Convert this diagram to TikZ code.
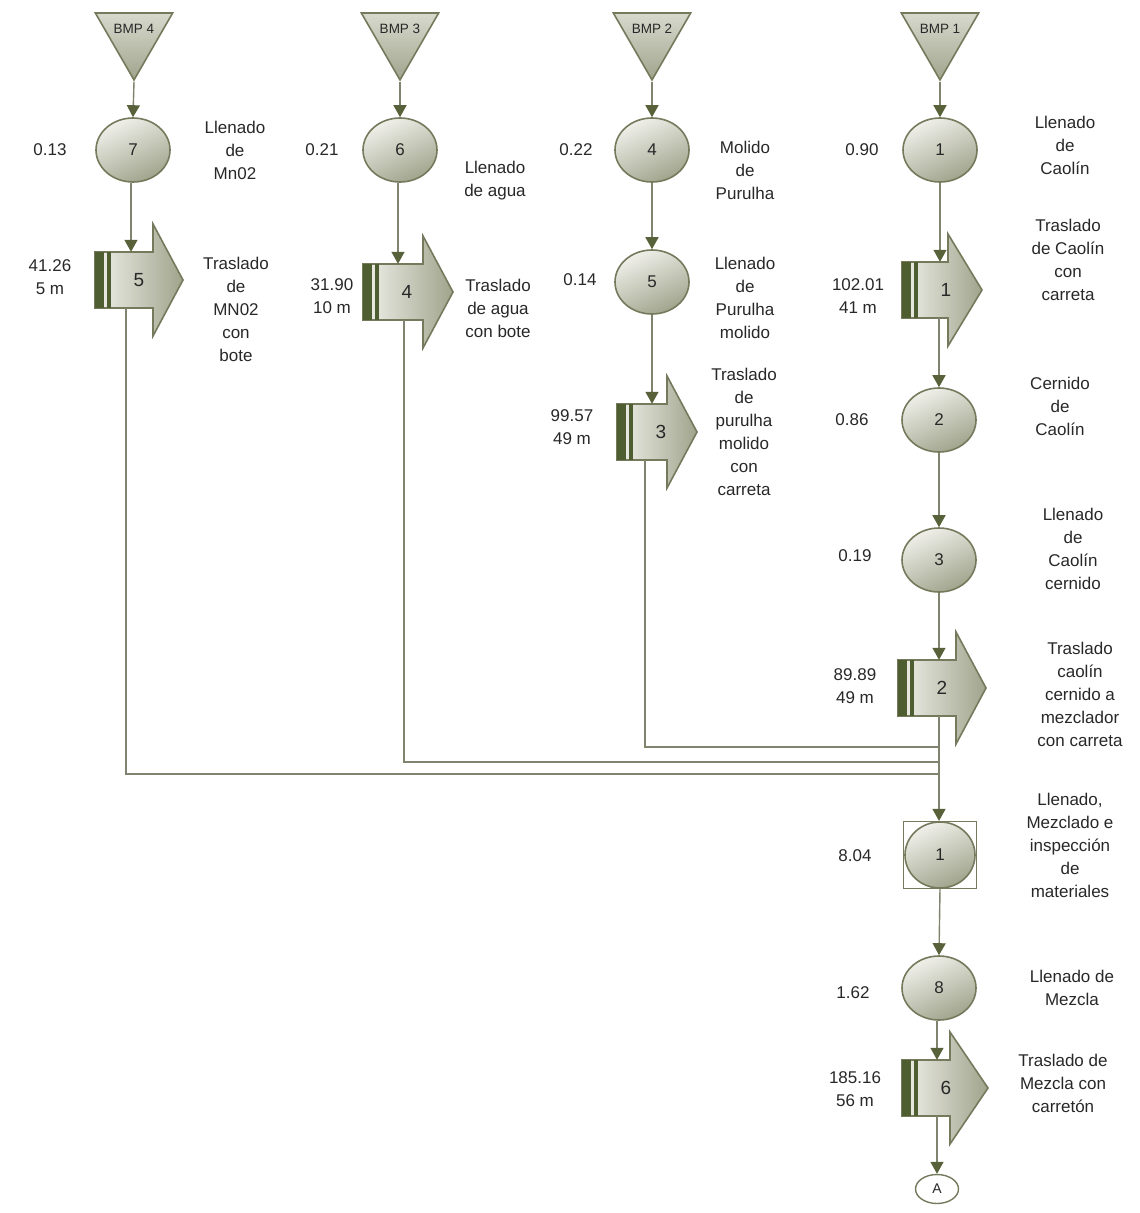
\documentclass[tikz,border=0pt]{standalone}
\usepackage{fontspec}
\setmainfont{Liberation Sans}
\usetikzlibrary{shapes.geometric,arrows.meta,calc}
\definecolor{lineC}{RGB}{128,131,110}
\definecolor{tipC}{RGB}{88,98,58}
\definecolor{edgeC}{RGB}{118,122,92}
\definecolor{barC}{RGB}{78,94,48}
\definecolor{fillL}{RGB}{240,240,234}
\definecolor{fillD}{RGB}{160,164,140}
\definecolor{txtC}{RGB}{40,40,40}
\tikzset{
  opnode/.style={ellipse, draw=edgeC, line width=1.6pt, top color=fillL, bottom color=fillD, shading angle=25,
     minimum width=74, minimum height=64, inner sep=0, font=\fontsize{17}{19}\selectfont, text=txtC},
  trinode/.style={regular polygon, regular polygon sides=3, shape border rotate=180, draw=edgeC, line width=1.6pt,
     top color=fillL!70!fillD, bottom color=fillD, minimum size=89.3, inner sep=0},
  arr/.style={draw=lineC, line width=1.4pt, -{Triangle[width=13pt,length=12pt,color=tipC]}},
  ln/.style={draw=lineC, line width=1.4pt},
  lbl/.style={font=\fontsize{17}{23}\selectfont, text=txtC, align=center, inner sep=0},
  tnum/.style={font=\fontsize{19}{23}\selectfont, text=txtC, inner sep=0},
  bmp/.style={font=\fontsize{13.5}{15}\selectfont, text=txtC, inner sep=0},
  tbody/.style={draw=edgeC, line width=1.6pt, left color=fillL, right color=fillD},
}
% name, x0, yc, w, headlength, number
\newcommand\transport[6]{%
  \path[tbody] (#2,#3) ++(0,-28) -- ++(#4,0) -- ++(0,-28) -- ++(#5,56) -- ++(-#5,56) -- ++(0,-28) -- ++(-#4,0) -- cycle;
  \fill[barC] (#2,#3) ++(0,-28) rectangle ++(9,56);
  \fill[barC] (#2,#3) ++(12,-28) rectangle ++(3.5,56);
  \node[inner sep=0, minimum width=#4, minimum height=56] (#1) at ($(#2,#3)+(#4/2,0)$) {};
  \node[tnum] (#1n) at ($(#2,#3)+(44,0)$) {#6};
}
\begin{document}
\begin{tikzpicture}[x=1pt,y=-1pt]
\useasboundingbox[fill=white] (0,0) rectangle (1140,1213);

% ---------- column BMP 4 ----------
\node[trinode] (b4) at (134,35.3) {};
\node[bmp] (b4t) at (134,29) {BMP 4};
\node[opnode] (c7) at (133,150) {7};
\transport{t5}{95}{280}{58}{30}{5}
\node[lbl] (l013) at (50,150) {0.13};
\node[lbl] (d7) at (235,150) {Llenado\\de\\Mn02};
\node[lbl] (l4126) at (50,277) {41.26\\5 m};
\node[lbl] (d5) at (236,309) {Traslado\\de\\MN02\\con\\bote};

% ---------- column BMP 3 ----------
\node[trinode] (b3) at (400,35.3) {};
\node[bmp] (b3t) at (400,29) {BMP 3};
\node[opnode] (c6) at (400,150) {6};
\transport{t4}{363}{292}{60}{30}{4}
\node[lbl] (l021) at (322,150) {0.21};
\node[lbl] (d6) at (495,181) {Llenado\\de agua};
\node[lbl] (l3190) at (332,296) {31.90\\10 m};
\node[lbl] (d4) at (498,308) {Traslado\\de agua\\con bote};

% ---------- column BMP 2 ----------
\node[trinode] (b2) at (652,35.3) {};
\node[bmp] (b2t) at (652,29) {BMP 2};
\node[opnode] (c4) at (652,150) {4};
\node[opnode] (c5) at (652,282) {5};
\transport{t3}{617}{432}{50}{30}{3}
\node[lbl] (l022) at (576,150) {0.22};
\node[lbl] (d4b) at (745,170) {Molido\\de\\Purulha};
\node[lbl] (l014) at (580,280) {0.14};
\node[lbl] (d5b) at (745,298) {Llenado\\de\\Purulha\\molido};
\node[lbl] (l9957) at (572,427) {99.57\\49 m};
\node[lbl] (d3) at (744,432) {Traslado\\de\\purulha\\molido\\con\\carreta};

% ---------- column BMP 1 ----------
\node[trinode] (b1) at (940,35.3) {};
\node[bmp] (b1t) at (940,29) {BMP 1};
\node[opnode] (c1) at (940,150) {1};
\transport{t1}{902}{290}{46}{34}{1}
\node[opnode] (c2) at (939,420) {2};
\node[opnode] (c3) at (939,560) {3};
\transport{t2}{898}{688}{58}{30}{2}
\node[draw=edgeC, line width=1.2pt, minimum width=73, minimum height=67, inner sep=0] (m1) at (940,855) {};
\node[opnode, minimum width=70, minimum height=66] (m1c) at (940,855) {1};
\node[opnode] (c8) at (939,988) {8};
\transport{t6}{902}{1088}{48}{38}{6}
\node[ellipse, draw=edgeC, line width=1.4pt, fill=white, minimum width=43, minimum height=29, inner sep=0,
      font=\fontsize{14}{16}\selectfont, text=txtC] (A) at (937,1189) {A};

\node[lbl] (l090) at (862,150) {0.90};
\node[lbl] (d1) at (1065,145) {Llenado\\de\\Caolín};
\node[lbl] (l10201) at (858,296) {102.01\\41 m};
\node[lbl] (dt1) at (1068,260) {Traslado\\de Caolín\\con\\carreta};
\node[lbl] (l086) at (852,420) {0.86};
\node[lbl] (d2) at (1060,406) {Cernido\\de\\Caolín};
\node[lbl] (l019) at (855,556) {0.19};
\node[lbl] (d3b) at (1073,549) {Llenado\\de\\Caolín\\cernido};
\node[lbl] (l8989) at (855,686) {89.89\\49 m};
\node[lbl] (dt2) at (1080,694) {Traslado\\caolín\\cernido a\\mezclador\\con carreta};
\node[lbl] (l804) at (855,856) {8.04};
\node[lbl] (dm1) at (1070,845) {Llenado,\\Mezclado e\\inspección\\de\\materiales};
\node[lbl] (l162) at (853,993) {1.62};
\node[lbl] (d8) at (1072,988) {Llenado de\\Mezcla};
\node[lbl] (l18516) at (855,1089) {185.16\\56 m};
\node[lbl] (dt6) at (1063,1083) {Traslado de\\Mezcla con\\carretón};

% ---------- connectors ----------
\coordinate (j3) at (939,747);
\coordinate (j4) at (939,762);
\coordinate (j5) at (939,774);

\draw[arr] (b4.south) -- (c7.north);
\draw[arr] ($(c7.south)+(-2,0)$) -- ($(c7.south |- t5.north)+(-2,0)$);
\draw[ln] ($(t5.south)+(2,0)$) |- (j5);

\draw[arr] (b3.south) -- (c6.north);
\draw[arr] ($(c6.south)+(-2,0)$) -- ($(c6.south |- t4.north)+(-2,0)$);
\draw[ln] ($(t4.south)+(11,0)$) |- (j4);

\draw[arr] (b2.south) -- (c4.north);
\draw[arr] (c4.south) -- (c5.north);
\draw[arr] (c5.south) -- (c5.south |- t3.north);
\draw[ln] ($(t3.south)+(3,0)$) |- (j3);

\draw[arr] (b1.south) -- (c1.north);
\draw[arr] (c1.south) -- (c1.south |- t1.north);
\draw[arr] (t1.south -| c2.north) -- (c2.north);
\draw[arr] (c2.south) -- (c3.north);
\draw[arr] (c3.south) -- (c3.south |- t2.north);
\draw[arr] (t2.south -| j3) -- (j3 |- m1.north);
\draw[arr] (m1c.south) -- (c8.north);
\draw[arr] (c8.south -| A.north) -- (A.north |- t6.north);
\draw[arr] (t6.south -| A.north) -- (A.north);
\end{tikzpicture}
\end{document}
